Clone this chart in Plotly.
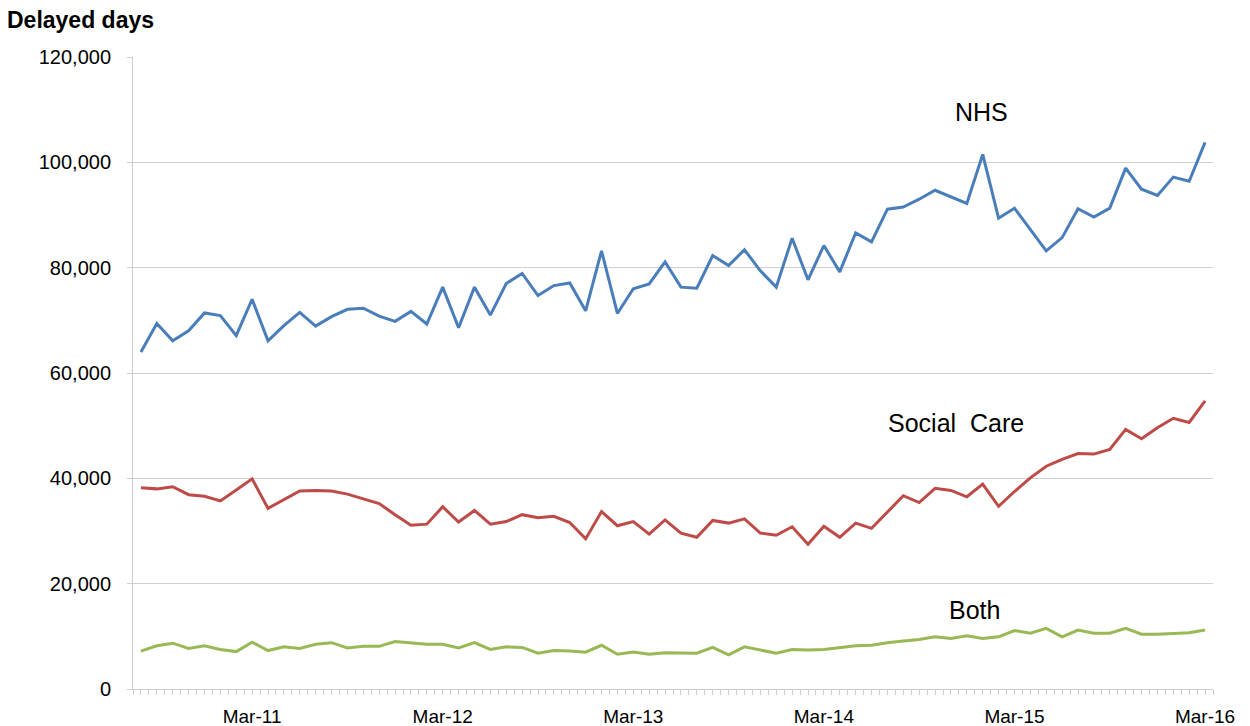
import plotly.graph_objects as go

months = [
    "Aug-10", "Sep-10", "Oct-10", "Nov-10", "Dec-10",
    "Jan-11", "Feb-11", "Mar-11", "Apr-11", "May-11", "Jun-11", "Jul-11", "Aug-11", "Sep-11", "Oct-11", "Nov-11", "Dec-11",
    "Jan-12", "Feb-12", "Mar-12", "Apr-12", "May-12", "Jun-12", "Jul-12", "Aug-12", "Sep-12", "Oct-12", "Nov-12", "Dec-12",
    "Jan-13", "Feb-13", "Mar-13", "Apr-13", "May-13", "Jun-13", "Jul-13", "Aug-13", "Sep-13", "Oct-13", "Nov-13", "Dec-13",
    "Jan-14", "Feb-14", "Mar-14", "Apr-14", "May-14", "Jun-14", "Jul-14", "Aug-14", "Sep-14", "Oct-14", "Nov-14", "Dec-14",
    "Jan-15", "Feb-15", "Mar-15", "Apr-15", "May-15", "Jun-15", "Jul-15", "Aug-15", "Sep-15", "Oct-15", "Nov-15", "Dec-15",
    "Jan-16", "Feb-16", "Mar-16",
]

nhs = [
    64000, 69400, 66100, 68000, 71400, 70900, 67100, 74000, 66100, 69000,
    71500, 68900, 70700, 72100, 72300, 70800, 69800, 71700, 69300, 76300,
    68600, 76300, 71000, 77000, 78900, 74700, 76600, 77100, 71800, 83200,
    71300, 76000, 76900, 81100, 76300, 76100, 82300, 80400, 83400, 79400,
    76300, 85600, 77700, 84200, 79200, 86600, 84900, 91100, 91500, 93000,
    94700, 93500, 92200, 101500, 89400, 91300, 87300, 83200, 85700, 91200,
    89600, 91300, 98900, 94900, 93700, 97200, 96400, 103800,
]

social_care = [
    38200, 38000, 38400, 36900, 36600, 35700, 37800, 39900, 34300, 36000,
    37600, 37700, 37600, 37000, 36100, 35200, 33100, 31100, 31300, 34600,
    31700, 33900, 31300, 31800, 33100, 32500, 32800, 31600, 28500, 33700,
    31000, 31800, 29400, 32100, 29600, 28800, 32000, 31500, 32300, 29600,
    29200, 30800, 27500, 30900, 28800, 31500, 30500, 33700, 36700, 35400,
    38100, 37700, 36500, 38900, 34700, 37500, 40100, 42300, 43600, 44700,
    44600, 45500, 49300, 47500, 49600, 51400, 50600, 54700,
]

both = [
    7200, 8200, 8700, 7700, 8200, 7500, 7100, 8900, 7300, 8000,
    7700, 8500, 8800, 7800, 8100, 8100, 9000, 8800, 8500, 8500,
    7800, 8800, 7500, 8000, 7900, 6800, 7300, 7200, 7000, 8300,
    6600, 7000, 6600, 6900, 6800, 6800, 7900, 6500, 8000, 7400,
    6800, 7500, 7400, 7500, 7800, 8200, 8300, 8800, 9100, 9400,
    9900, 9600, 10100, 9600, 9900, 11100, 10600, 11500, 9900, 11200,
    10600, 10600, 11500, 10400, 10400, 10600, 10700, 11200,
]

tick_labels = ["Mar-11", "Mar-12", "Mar-13", "Mar-14", "Mar-15", "Mar-16"]
y_ticks = [0, 20000, 40000, 60000, 80000, 100000, 120000]

series_names = ["NHS", "Social Care", "Both"]
series_colors = ["#4A7EBB", "#BE4B48", "#98B954"]

x_idx = list(range(len(months)))
tick_pos = [months.index(t) for t in tick_labels]

fig = go.Figure()
for name, vals, color in zip(series_names, [nhs, social_care, both], series_colors):
    fig.add_trace(go.Scatter(
        x=x_idx, y=vals, mode="lines", name=name,
        line=dict(color=color, width=3),
        customdata=months,
        hovertemplate="%{customdata}: %{y:,}<extra>" + name + "</extra>",
    ))

grid_col = "#CFCFCF"

fig.update_layout(
    width=1250, height=726,
    paper_bgcolor="white", plot_bgcolor="white",
    showlegend=False,
    margin=dict(l=133, r=37, t=57, b=37, autoexpand=False),
    font=dict(family="Liberation Sans, Arial, sans-serif", color="#000000", size=19),
    title=dict(text="<b>Delayed days</b>", x=7 / 1250, xanchor="left",
               y=1 - 20 / 726, yanchor="middle", font=dict(size=23, color="#000000")),
)

fig.update_xaxes(
    range=[-0.5, len(months) - 0.5],
    tickmode="array", tickvals=tick_pos, ticktext=tick_labels,
    ticks="outside", ticklen=5, tickcolor=grid_col, tickwidth=1,
    ticklabelstandoff=5,
    showline=True, linecolor=grid_col, linewidth=1,
    showgrid=False, zeroline=False,
    tickfont=dict(size=19),
    minor=dict(ticks="outside", ticklen=5, tickcolor=grid_col, tickwidth=1,
               tickmode="linear", tick0=-0.5, dtick=0.5, showgrid=False),
)

fig.update_yaxes(
    range=[0, 120000],
    tickmode="array", tickvals=y_ticks, tickformat=",",
    ticks="outside", ticklen=5, tickcolor=grid_col,
    ticklabelstandoff=12,
    showline=True, linecolor=grid_col, linewidth=1,
    showgrid=True, gridcolor=grid_col, gridwidth=1,
    zeroline=False,
    tickfont=dict(size=20),
)

label_font = dict(size=25, color="#000000")
annotations = [
    ("NHS", 52.9, 109500),
    ("Social\u00a0\u00a0Care", 51.3, 50500),
    ("Both", 52.5, 15000),
]
for text, ax, ay in annotations:
    fig.add_annotation(x=ax, y=ay, xref="x", yref="y", text=text, showarrow=False,
                       font=label_font, xanchor="center", yanchor="middle")

fig.write_html("out.html")
